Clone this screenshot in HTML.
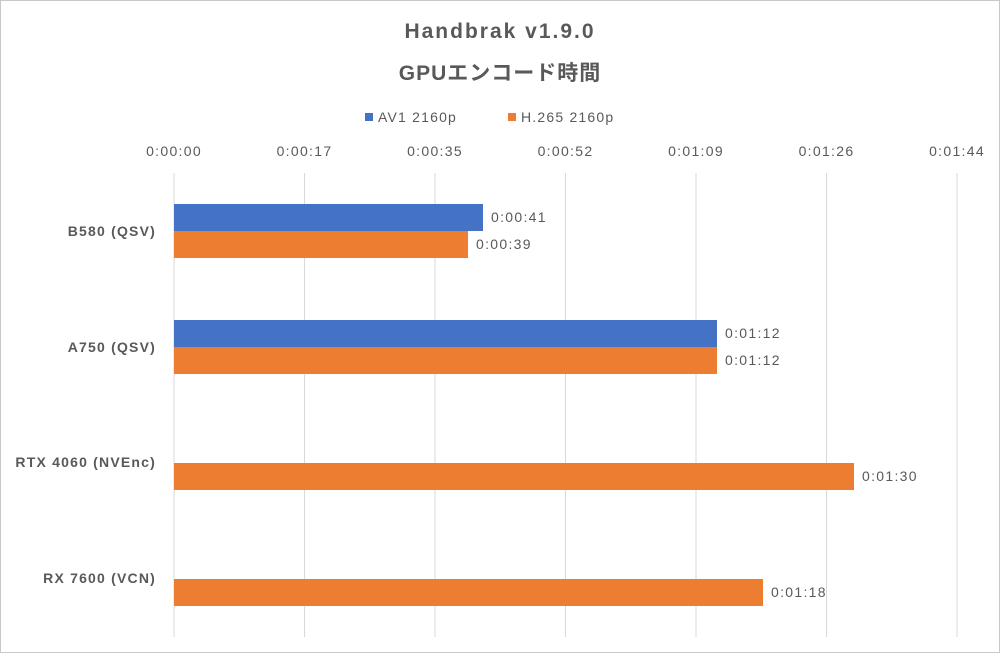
<!DOCTYPE html>
<html><head><meta charset="utf-8"><style>
html,body{margin:0;padding:0;background:#fff}
svg{display:block}
text{font-family:"Liberation Sans","Noto Sans CJK JP",sans-serif}
</style></head><body>
<svg width="1000" height="653" viewBox="0 0 1000 653" xmlns="http://www.w3.org/2000/svg">
<rect x="0.5" y="0.5" width="999" height="652" fill="#fff" stroke="#c8c8c8"/>
<text x="500" y="38" text-anchor="middle" font-size="21" font-weight="bold" fill="#595959" letter-spacing="2">Handbrak v1.9.0</text>
<text x="500" y="80" text-anchor="middle" font-size="21" font-weight="bold" fill="#595959" letter-spacing="1">GPUエンコード時間</text>
<rect x="365" y="113" width="8" height="8" fill="#4472c4"/>
<text x="378" y="122" font-size="14" fill="#595959" letter-spacing="1.2">AV1 2160p</text>
<rect x="508" y="113" width="8" height="8" fill="#ed7d31"/>
<text x="521" y="122" font-size="14" fill="#595959" letter-spacing="1.2">H.265 2160p</text>
<g font-size="14" fill="#595959" text-anchor="middle" letter-spacing="1.3">
<text x="174" y="156">0:00:00</text><text x="304.5" y="156">0:00:17</text><text x="435" y="156">0:00:35</text><text x="565.5" y="156">0:00:52</text><text x="696" y="156">0:01:09</text><text x="826.5" y="156">0:01:26</text><text x="957" y="156">0:01:44</text>
</g>
<g stroke="#d9d9d9" stroke-width="1">
<line x1="174" y1="173" x2="174" y2="637"/><line x1="304.5" y1="173" x2="304.5" y2="637"/><line x1="435" y1="173" x2="435" y2="637"/><line x1="565.5" y1="173" x2="565.5" y2="637"/><line x1="696" y1="173" x2="696" y2="637"/><line x1="826.5" y1="173" x2="826.5" y2="637"/><line x1="957" y1="173" x2="957" y2="637"/>
</g>
<rect x="174" y="204" width="309" height="27" fill="#4472c4"/>
<rect x="174" y="231" width="294" height="27" fill="#ed7d31"/>
<rect x="174" y="320" width="543" height="27" fill="#4472c4"/>
<rect x="174" y="347" width="543" height="27" fill="#ed7d31"/>
<rect x="174" y="463" width="680" height="27" fill="#ed7d31"/>
<rect x="174" y="579" width="589" height="27" fill="#ed7d31"/>
<g font-size="14" fill="#595959" letter-spacing="1.3">
<text x="491" y="222">0:00:41</text><text x="476" y="249">0:00:39</text>
<text x="725" y="338">0:01:12</text><text x="725" y="365">0:01:12</text>
<text x="862" y="481">0:01:30</text><text x="771" y="597">0:01:18</text>
</g>
<g font-size="14" font-weight="bold" fill="#595959" text-anchor="end" letter-spacing="1.2">
<text x="156" y="236">B580 (QSV)</text>
<text x="156" y="352">A750 (QSV)</text>
<text x="156" y="467">RTX 4060 (NVEnc)</text>
<text x="156" y="583">RX 7600 (VCN)</text>
</g>
</svg>
</body></html>
